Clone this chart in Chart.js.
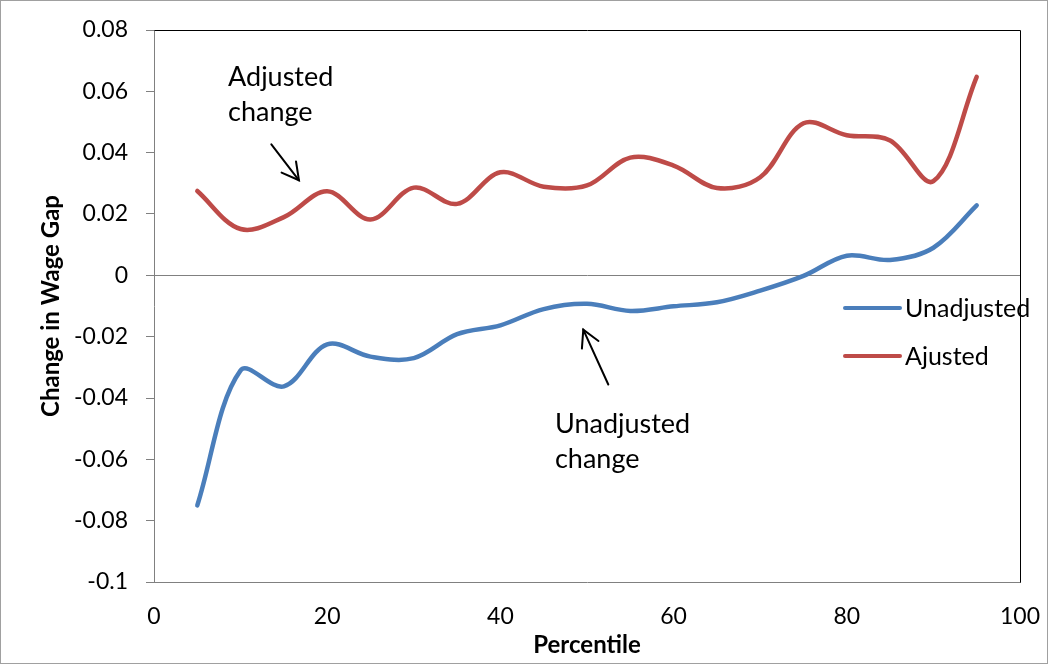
<!DOCTYPE html>
<html>
<head>
<meta charset="utf-8">
<title>Change in Wage Gap by Percentile</title>
<script src="https://cdn.jsdelivr.net/npm/chart.js@4.4.1/dist/chart.umd.min.js"></script>
<style>
  html, body { margin: 0; padding: 0; background: #fff; }
  canvas { display: block; }
</style>
</head>
<body>
<canvas id="wageGap" width="1048" height="664"></canvas>
<script>
// Percentile points along the wage distribution
const percentiles = [5, 10, 15, 20, 25, 30, 35, 40, 45, 50, 55, 60, 65, 70, 75, 80, 85, 90, 95];

// Change in the wage gap at each percentile
const unadjusted = [-0.0750, -0.0310, -0.0362, -0.0225, -0.0265, -0.0270, -0.0192, -0.0163, -0.0110, -0.0093,
                    -0.0116, -0.0101, -0.0088, -0.0050, -0.0002, 0.0064, 0.0050, 0.0090, 0.0228];
const adjusted   = [0.0275, 0.0151, 0.0190, 0.0274, 0.0182, 0.0286, 0.0233, 0.0336, 0.0289, 0.0293,
                    0.0384, 0.0358, 0.0285, 0.0320, 0.0496, 0.0457, 0.0440, 0.0307, 0.0647];

const seriesNames = ['Unadjusted', 'Ajusted'];
const seriesColors = ['#4A7EBB', '#BE4B48'];

// Axis ticks
const xTicks = [0, 20, 40, 60, 80, 100];
const yTicks = [-0.1, -0.08, -0.06, -0.04, -0.02, 0, 0.02, 0.04, 0.06, 0.08];
const xTitle = 'Percentile';
const yTitle = 'Change in Wage Gap';

// Callout notes, anchored in data units
const notes = [
  { lines: ['Adjusted', 'change'],   at: [8.55, 0.0616],  from: [13.55, 0.0427],  to: [16.74, 0.0310] },
  { lines: ['Unadjusted', 'change'], at: [46.3, -0.0514], from: [52.46, -0.0356], to: [49.57, -0.0177] }
];

const FONT = 'Lato, "Open Sans", sans-serif';
const AXIS_GREY = '#808080';

const toPoints = vals => percentiles.map((p, i) => ({ x: p, y: vals[i] }));

// Frame, plot-area edges, callouts and the in-plot legend
const decorations = {
  id: 'decorations',
  beforeDraw(chart) {
    const { ctx, width, height } = chart;
    ctx.save();
    ctx.fillStyle = '#fff';
    ctx.fillRect(0, 0, width, height);
    ctx.strokeStyle = '#a0a0a0';
    ctx.lineWidth = 1;
    ctx.strokeRect(0.5, 0.5, width - 1, height - 1);
    ctx.restore();
  },
  beforeDatasetsDraw(chart) {
    const { ctx, chartArea: a } = chart;
    ctx.save();
    ctx.strokeStyle = '#000';
    ctx.lineWidth = 1;
    ctx.beginPath();
    ctx.moveTo(Math.round(a.left) + 0.5, Math.round(a.top) + 0.5);
    ctx.lineTo(Math.round(a.right) + 0.5, Math.round(a.top) + 0.5);
    ctx.lineTo(Math.round(a.right) + 0.5, Math.round(a.bottom) + 0.5);
    ctx.stroke();
    ctx.restore();
  },
  afterDraw(chart) {
    const { ctx, chartArea, scales: { x, y } } = chart;
    ctx.save();

    // callouts with arrows
    ctx.font = '27px ' + FONT;
    ctx.fillStyle = '#000';
    ctx.textAlign = 'left';
    ctx.textBaseline = 'alphabetic';
    notes.forEach(n => {
      const tx = x.getPixelForValue(n.at[0]);
      const ty = y.getPixelForValue(n.at[1]);
      n.lines.forEach((t, i) => ctx.fillText(t, tx, ty + i * 35));

      const x0 = x.getPixelForValue(n.from[0]), y0 = y.getPixelForValue(n.from[1]);
      const x1 = x.getPixelForValue(n.to[0]),   y1 = y.getPixelForValue(n.to[1]);
      const ang = Math.atan2(y1 - y0, x1 - x0);
      const head = 19, spread = 0.5;
      ctx.strokeStyle = '#000';
      ctx.lineWidth = 2;
      ctx.lineCap = 'round';
      ctx.beginPath();
      ctx.moveTo(x0, y0);
      ctx.lineTo(x1, y1);
      ctx.stroke();
      ctx.beginPath();
      ctx.moveTo(x1 - head * Math.cos(ang - spread), y1 - head * Math.sin(ang - spread));
      ctx.lineTo(x1, y1);
      ctx.lineTo(x1 - head * Math.cos(ang + spread), y1 - head * Math.sin(ang + spread));
      ctx.stroke();
    });

    // legend entries
    ctx.font = '25px ' + FONT;
    ctx.textBaseline = 'middle';
    chart.data.datasets.forEach((ds, i) => {
      const lx = chartArea.right - 175;
      const ly = chartArea.top + 278 + i * 48;
      ctx.strokeStyle = ds.borderColor;
      ctx.lineWidth = 4;
      ctx.lineCap = 'round';
      ctx.beginPath();
      ctx.moveTo(lx, ly);
      ctx.lineTo(lx + 55, ly);
      ctx.stroke();
      ctx.fillStyle = '#000';
      ctx.fillText(ds.label, lx + 60, ly + 1);
    });
    ctx.restore();
  }
};

new Chart(document.getElementById('wageGap'), {
  type: 'line',
  data: {
    datasets: [
      { label: seriesNames[0], data: toPoints(unadjusted), borderColor: seriesColors[0] },
      { label: seriesNames[1], data: toPoints(adjusted),   borderColor: seriesColors[1] }
    ].map(d => Object.assign(d, {
      borderWidth: 4.5,
      tension: 0.35,
      pointRadius: 0,
      fill: false,
      borderCapStyle: 'round',
      borderJoinStyle: 'round'
    }))
  },
  options: {
    responsive: false,
    animation: false,
    events: [],
    layout: { autoPadding: false, padding: { left: 0, top: 30, right: 28, bottom: 0 } },
    plugins: { legend: { display: false }, tooltip: { enabled: false } },
    scales: {
      x: {
        type: 'linear',
        min: 0,
        max: 100,
        afterBuildTicks: s => { s.ticks = xTicks.map(v => ({ value: v })); },
        afterFit: s => { s.height = 82; s.paddingLeft = 0; s.paddingRight = 0; },
        ticks: {
          color: '#000',
          padding: 21,
          font: { family: FONT, size: 23 },
          callback: v => String(v)
        },
        grid: {
          drawTicks: false,
          drawOnChartArea: false
        },
        border: { display: true, color: AXIS_GREY, width: 1 },
        title: {
          display: true,
          text: xTitle,
          color: '#000',
          font: { family: FONT, size: 24, weight: 'bold' },
          padding: { top: 0, bottom: 4 }
        }
      },
      y: {
        type: 'linear',
        min: -0.1,
        max: 0.08,
        afterBuildTicks: s => { s.ticks = yTicks.map(v => ({ value: v })); },
        afterFit: s => { s.width = 154; s.paddingTop = 0; s.paddingBottom = 0; },
        ticks: {
          color: '#000',
          padding: 18,
          font: { family: FONT, size: 23 },
          callback: v => String(+v.toFixed(2))
        },
        grid: {
          drawTicks: true,
          tickLength: 8,
          tickColor: AXIS_GREY,
          color: c => (c.tick && Math.abs(c.tick.value) < 1e-9 ? AXIS_GREY : 'rgba(0,0,0,0)'),
          lineWidth: 1
        },
        border: { display: true, color: AXIS_GREY, width: 1 },
        title: {
          display: true,
          text: yTitle,
          color: '#000',
          font: { family: FONT, size: 24, weight: 'bold' },
          padding: { top: 37, bottom: 0 }
        }
      }
    }
  },
  plugins: [decorations]
});
</script>
</body>
</html>
